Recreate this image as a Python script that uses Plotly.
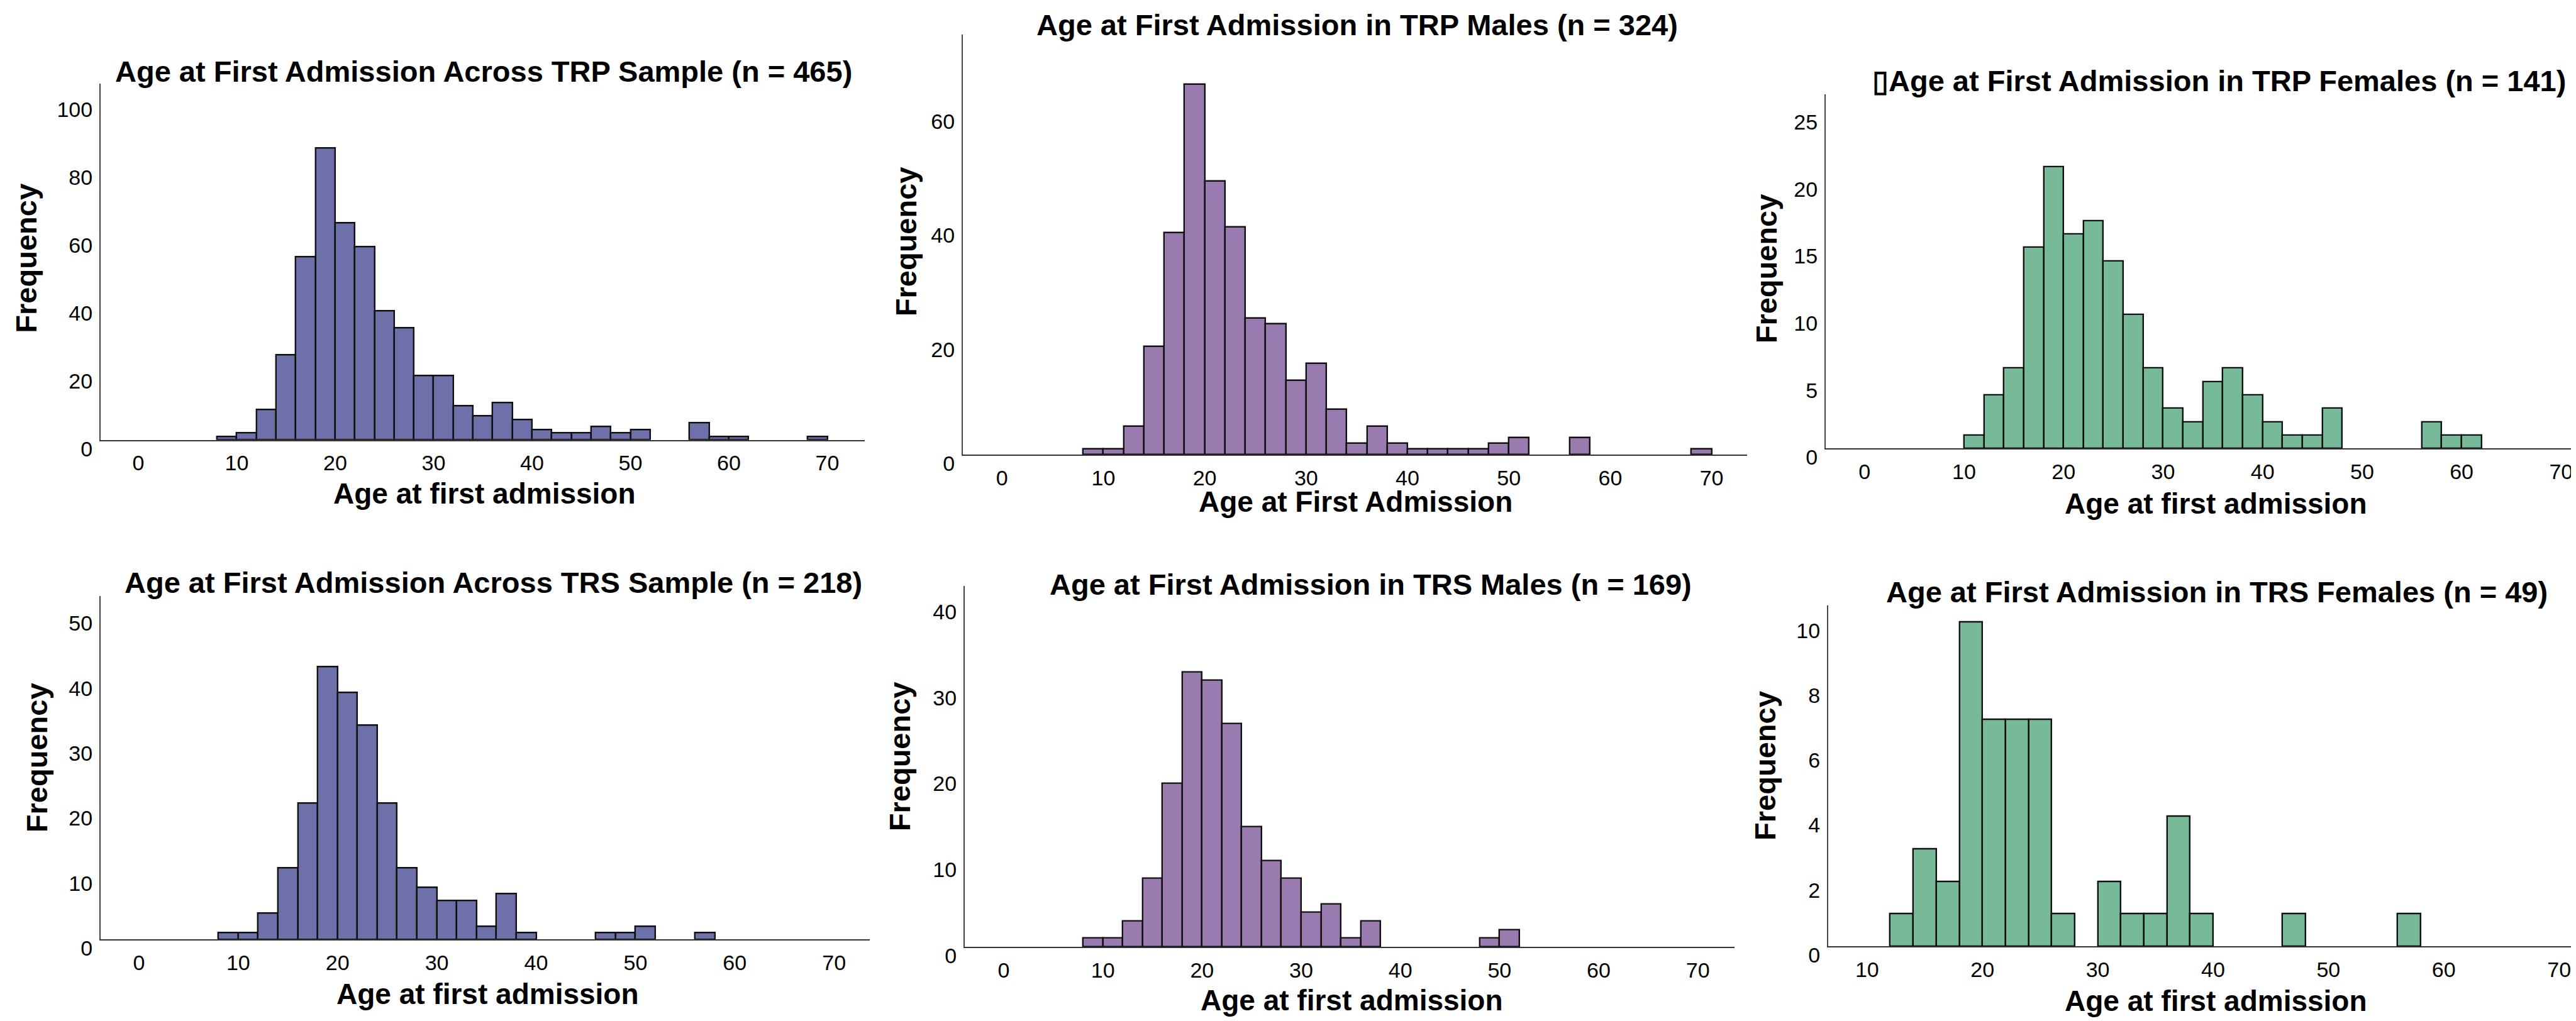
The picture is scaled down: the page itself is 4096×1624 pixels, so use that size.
import plotly.graph_objects as go

W, H = 4096, 1624

# ---------------- data (bin left edges, bin width 2) ----------------
trp_all_bins = [8, 10, 12, 14, 16, 18, 20, 22, 24, 26, 28, 30, 32, 34, 36, 38, 40, 42, 44, 46, 48, 50, 56, 58, 60, 68]
trp_all_counts = [1, 2, 9, 25, 54, 86, 64, 57, 38, 33, 19, 19, 10, 7, 11, 6, 3, 2, 2, 4, 2, 3, 5, 1, 1, 1]

trp_male_bins = [8, 10, 12, 14, 16, 18, 20, 22, 24, 26, 28, 30, 32, 34, 36, 38, 40, 42, 44, 46, 48, 50, 56, 68]
trp_male_counts = [1, 1, 5, 19, 39, 65, 48, 40, 24, 23, 13, 16, 8, 2, 5, 2, 1, 1, 1, 1, 2, 3, 3, 1]

trp_female_bins = [10, 12, 14, 16, 18, 20, 22, 24, 26, 28, 30, 32, 34, 36, 38, 40, 42, 44, 46, 56, 58, 60]
trp_female_counts = [1, 4, 6, 15, 21, 16, 17, 14, 10, 6, 3, 2, 5, 6, 4, 2, 1, 1, 3, 2, 1, 1]

trs_all_bins = [8, 10, 12, 14, 16, 18, 20, 22, 24, 26, 28, 30, 32, 34, 36, 38, 46, 48, 50, 56]
trs_all_counts = [1, 1, 4, 11, 21, 42, 38, 33, 21, 11, 8, 6, 6, 2, 7, 1, 1, 1, 2, 1]

trs_male_bins = [8, 10, 12, 14, 16, 18, 20, 22, 24, 26, 28, 30, 32, 34, 36, 48, 50]
trs_male_counts = [1, 1, 3, 8, 19, 32, 31, 26, 14, 10, 8, 4, 5, 1, 3, 1, 2]

trs_female_bins = [12, 14, 16, 18, 20, 22, 24, 26, 30, 32, 34, 36, 38, 46, 56]
trs_female_counts = [1, 3, 2, 10, 7, 7, 7, 1, 2, 1, 1, 4, 1, 1, 1]

titles = [
    "Age at First Admission Across TRP Sample (n = 465)",
    "Age at First Admission in TRP Males (n = 324)",
    "\u25afAge at First Admission in TRP Females (n = 141)",
    "Age at First Admission Across TRS Sample (n = 218)",
    "Age at First Admission in TRS Males (n = 169)",
    "Age at First Admission in TRS Females (n = 49)",
]
xtitles = [
    "Age at first admission",
    "Age at First Admission",
    "Age at first admission",
    "Age at first admission",
    "Age at first admission",
    "Age at first admission",
]
ytitle = "Frequency"

x_ticks_full = [0, 10, 20, 30, 40, 50, 60, 70]
x_ticks_short = [10, 20, 30, 40, 50, 60, 70]
y_ticks = [
    [0, 20, 40, 60, 80, 100],
    [0, 20, 40, 60],
    [0, 5, 10, 15, 20, 25],
    [0, 10, 20, 30, 40, 50],
    [0, 10, 20, 30, 40],
    [0, 2, 4, 6, 8, 10],
]

BLUE = "#6e70aa"
PURPLE = "#9a7baf"
GREEN = "#76ba9a"

# ---------------- layout (pixels) ----------------
panels = [
    dict(bins=trp_all_bins, counts=trp_all_counts, color=BLUE,
         box=(152, 1367, 128, 706), xr=[-3.83, 73.8], yr=[0, 104.9], xt=x_ticks_full,
         title=(761, 108), xtitle=(762, 793), ylab=(34, 411)),
    dict(bins=trp_male_bins, counts=trp_male_counts, color=PURPLE,
         box=(1523, 2770, 48, 730), xr=[-3.86, 73.5], yr=[0, 73.7], xt=x_ticks_full,
         title=(2150, 32), xtitle=(2147, 806), ylab=(1432, 384)),
    dict(bins=trp_female_bins, counts=trp_female_counts, color=GREEN,
         box=(2895, 4096, 145, 720), xr=[-3.9, 72.0], yr=[0, 26.4], xt=x_ticks_full,
         title=(3520, 123), xtitle=(3515, 809), ylab=(2800, 428)),
    dict(bins=trs_all_bins, counts=trs_all_counts, color=BLUE,
         box=(152, 1375, 960, 1517), xr=[-3.86, 73.6], yr=[0, 52.8], xt=x_ticks_full,
         title=(776, 938), xtitle=(767, 1606), ylab=(50, 1222)),
    dict(bins=trs_male_bins, counts=trs_male_counts, color=PURPLE,
         box=(1526, 2750, 943, 1529), xr=[-3.93, 73.7], yr=[0, 42.0], xt=x_ticks_full,
         title=(2171, 941), xtitle=(2141, 1616), ylab=(1422, 1220)),
    dict(bins=trs_female_bins, counts=trs_female_counts, color=GREEN,
         box=(2899, 4096, 975, 1528), xr=[6.63, 71.9], yr=[0, 10.5], xt=x_ticks_short,
         title=(3517, 953), xtitle=(3515, 1617), ylab=(2799, 1235)),
]

FONT = "Arial, 'Liberation Sans', sans-serif"

fig = go.Figure()
annotations = []
layout_axes = {}

for i, p in enumerate(panels):
    n = i + 1
    xa = "xaxis" if n == 1 else f"xaxis{n}"
    ya = "yaxis" if n == 1 else f"yaxis{n}"
    xref = "x" if n == 1 else f"x{n}"
    yref = "y" if n == 1 else f"y{n}"
    fig.add_trace(go.Bar(
        x=p["bins"], y=p["counts"], width=2, offset=0,
        marker=dict(color=p["color"], line=dict(color="#111111", width=2.4)),
        xaxis=xref, yaxis=yref, showlegend=False, hoverinfo="x+y",
    ))
    l, r, t, b = p["box"]
    layout_axes[xa] = dict(
        domain=[l / W, min(r / W, 1.0)], anchor=yref, range=p["xr"],
        tickmode="array", tickvals=p["xt"], ticks="", showgrid=False, zeroline=False,
        showline=True, linecolor="#333333", linewidth=2,
        tickfont=dict(family=FONT, size=34, color="#000000"),
        ticklabelstandoff=6,
    )
    layout_axes[ya] = dict(
        domain=[1 - b / H, 1 - t / H], anchor=xref, range=p["yr"],
        tickmode="array", tickvals=y_ticks[i], ticks="", showgrid=False, zeroline=False,
        showline=True, linecolor="#444444", linewidth=2,
        tickfont=dict(family=FONT, size=34, color="#000000"),
        ticklabelshift=14, ticklabelstandoff=4,
    )
    tx, ty = p["title"]
    annotations.append(dict(
        text=f"<b>{titles[i]}</b>", x=tx / W, y=1 - ty / H, xref="paper", yref="paper",
        xanchor="center", yanchor="middle", showarrow=False,
        font=dict(family=FONT, size=47, color="#000000"),
    ))
    xx, xy = p["xtitle"]
    annotations.append(dict(
        text=f"<b>{xtitles[i]}</b>", x=xx / W, y=1 - xy / H, xref="paper", yref="paper",
        xanchor="center", yanchor="middle", showarrow=False,
        font=dict(family=FONT, size=46, color="#000000"),
    ))
    lx, ly = p["ylab"]
    annotations.append(dict(
        text=f"<b>{ytitle}</b>", x=lx / W, y=1 - ly / H, xref="paper", yref="paper",
        xanchor="center", yanchor="middle", showarrow=False, textangle=-90,
        font=dict(family=FONT, size=47, color="#000000"),
    ))

fig.update_layout(
    width=W, height=H,
    margin=dict(l=0, r=0, t=0, b=0),
    paper_bgcolor="white", plot_bgcolor="white",
    bargap=0, annotations=annotations,
    **layout_axes,
)

fig.write_html("out.html", config={"displayModeBar": False})
